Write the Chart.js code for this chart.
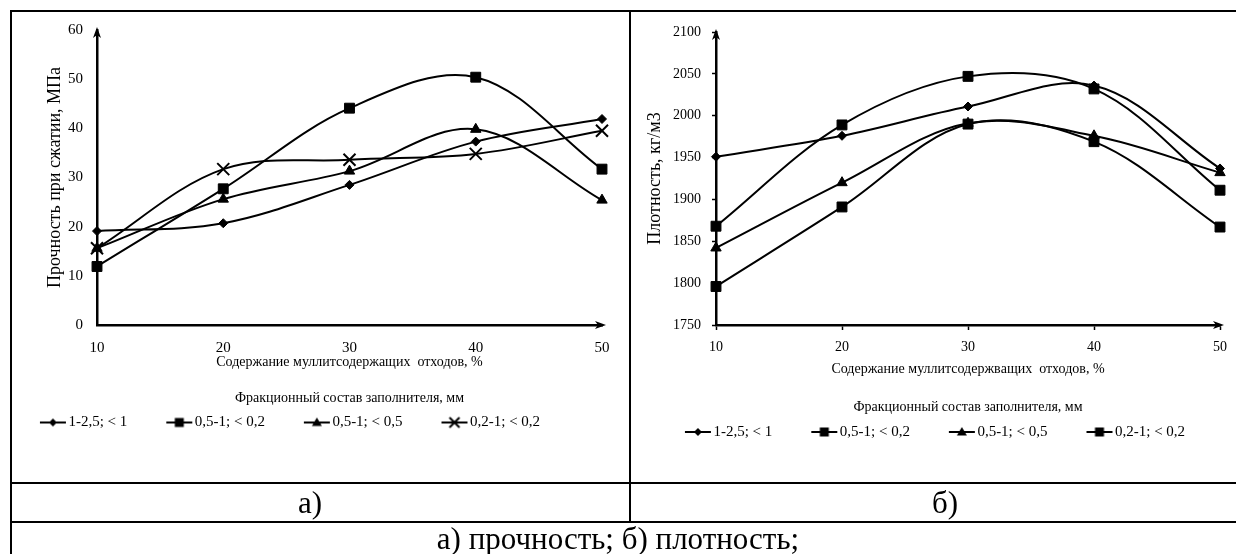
<!DOCTYPE html>
<html lang="ru">
<head>
<meta charset="UTF-8">
<title>Прочность и плотность</title>
<script src="https://cdn.jsdelivr.net/npm/chart.js@4.4.1/dist/chart.umd.min.js"></script>
<style>
  body {
    margin: 0;
    width: 1236px;
    height: 554px;
    position: relative;
    overflow: hidden;
    background: #fff;
    font-family: "Liberation Serif", "Times New Roman", serif;
    color: #000;
  }
  .chart-box { position: absolute; top: 0; height: 483px; }
  .line { position: absolute; background: #000; }
  .caption { position: absolute; text-align: center; font-size: 31px; }
</style>
</head>
<body>

<div class="chart-box" style="left:-53px; width:682px;"><canvas id="chartStrength"></canvas></div>
<div class="chart-box" style="left:617px; width:619px;"><canvas id="chartDensity"></canvas></div>

<!-- table borders -->
<div class="line" style="left:10px; top:10px; width:1226px; height:2px;"></div>
<div class="line" style="left:10px; top:10px; width:2px; height:544px;"></div>
<div class="line" style="left:629px; top:10px; width:2px; height:513px;"></div>
<div class="line" style="left:10px; top:482px; width:1226px; height:2px;"></div>
<div class="line" style="left:10px; top:521px; width:1226px; height:2px;"></div>

<div class="caption" style="left:0; width:620px; top:484px; line-height:37px;">а)</div>
<div class="caption" style="left:630px; width:630px; top:484px; line-height:37px;">б)</div>
<div class="caption" style="left:0; width:1236px; top:523px; line-height:32px;">а) прочность; б) плотность;</div>

<script>
  // данные
  const xValues = [10, 20, 30, 40, 50];
  const seriesLabels = ['1-2,5; < 1', '0,5-1; < 0,2', '0,5-1; < 0,5', '0,2-1; < 0,2'];

  const strength1 = [19.1, 20.7, 28.5, 37.3, 41.9];
  const strength2 = [11.9, 27.7, 44.1, 50.4, 31.7];
  const strength3 = [15.6, 25.6, 31.3, 39.8, 25.4];
  const strength4 = [15.6, 31.7, 33.6, 34.8, 39.5];

  const density1 = [1951, 1976, 2011, 2036, 1937];
  const density2 = [1868, 1989, 2047, 2032, 1911];
  const density3 = [1842, 1920, 1991, 1976, 1932];
  const density4 = [1796, 1891, 1990, 1969, 1867];

  const strengthTicks = [0, 60, 10];
  const densityTicks = [1750, 2100, 50];

  const strengthMarkers = ['rectRot', 'rect', 'triangle', 'crossRot'];
  const densityMarkers = ['rectRot', 'rect', 'triangle', 'rect'];
  const markerRadius = { rectRot: 4.5, rect: 7, triangle: 6, crossRot: 8.5 };

  Chart.defaults.font.family = '"Liberation Serif", "Times New Roman", serif';
  Chart.defaults.color = '#000';

  // значок легенды: линия с маркером, слева пустое место под отступ
  function legendIcon(style) {
    const c = document.createElement('canvas');
    c.width = 64; c.height = 14;
    const ctx = c.getContext('2d');
    ctx.strokeStyle = '#000'; ctx.fillStyle = '#000'; ctx.lineWidth = 2;
    ctx.beginPath(); ctx.moveTo(37, 7); ctx.lineTo(63, 7); ctx.stroke();
    const x = 50, y = 7;
    ctx.beginPath();
    if (style === 'rectRot') {
      ctx.moveTo(x, y - 4); ctx.lineTo(x + 4, y); ctx.lineTo(x, y + 4); ctx.lineTo(x - 4, y); ctx.fill();
    } else if (style === 'rect') {
      ctx.fillRect(x - 4.5, y - 4.5, 9, 9);
    } else if (style === 'triangle') {
      ctx.moveTo(x, y - 5); ctx.lineTo(x + 5, y + 3.5); ctx.lineTo(x - 5, y + 3.5); ctx.fill();
    } else {
      ctx.moveTo(x - 5, y - 5); ctx.lineTo(x + 5, y + 5);
      ctx.moveTo(x + 5, y - 5); ctx.lineTo(x - 5, y + 5); ctx.stroke();
    }
    return c;
  }

  // стрелки на концах осей
  const axisArrows = {
    id: 'axisArrows',
    afterDraw(chart) {
      const { ctx, chartArea: { left, top, right, bottom } } = chart;
      ctx.save();
      ctx.fillStyle = '#000';
      ctx.beginPath();
      ctx.moveTo(left, top - 3);
      ctx.lineTo(left + 4, top + 8);
      ctx.lineTo(left, top + 5);
      ctx.lineTo(left - 4, top + 8);
      ctx.closePath();
      ctx.fill();
      ctx.beginPath();
      ctx.moveTo(right + 4, bottom);
      ctx.lineTo(right - 7, bottom - 4);
      ctx.lineTo(right - 4, bottom);
      ctx.lineTo(right - 7, bottom + 4);
      ctx.closePath();
      ctx.fill();
      ctx.restore();
    }
  };

  function makeDatasets(series, markers) {
    return series.map((values, i) => ({
      label: seriesLabels[i],
      data: values.map((v, j) => ({ x: xValues[j], y: v })),
      borderColor: '#000',
      backgroundColor: '#000',
      borderWidth: 2,
      pointStyle: markers[i],
      pointRadius: markerRadius[markers[i]],
      pointBorderWidth: markers[i] === 'crossRot' ? 2 : 1,
      tension: 0.35,
      clip: false
    }));
  }

  function makeChart(id, cfg) {
    const chart = new Chart(id, {
      type: 'line',
      data: { datasets: makeDatasets(cfg.series, cfg.markers) },
      plugins: [axisArrows],
      options: {
        responsive: true,
        maintainAspectRatio: false,
        animation: false,
        events: [],
        layout: { padding: { left: 0, top: cfg.top, right: cfg.right, bottom: 40 } },
        scales: {
          x: {
            type: 'linear',
            min: 10, max: 50,
            border: { color: '#000', width: 2.5 },
            grid: { drawOnChartArea: false, color: 'transparent', tickColor: cfg.xTickColor, tickLength: 5, tickWidth: 1.5 },
            ticks: { stepSize: 10, padding: 9, font: { size: cfg.tickSize }, callback: v => String(v) },
            title: {
              display: true,
              text: cfg.xTitle,
              font: { size: 14, lineHeight: cfg.xTitleLine },
              padding: { top: 0, bottom: 0 }
            },
            afterFit: s => { s.height = cfg.xHeight; }
          },
          y: {
            min: cfg.yTicks[0], max: cfg.yTicks[1],
            border: { color: '#000', width: 2.5 },
            grid: { drawOnChartArea: false, color: 'transparent', tickColor: cfg.yTickColor, tickLength: 4, tickWidth: 1.5 },
            ticks: { stepSize: cfg.yTicks[2], padding: cfg.yTickPad, font: { size: cfg.tickSize }, callback: v => String(v) },
            title: {
              display: true,
              text: cfg.yTitle,
              font: { size: 18 },
              padding: { top: cfg.yTitlePad, bottom: 0 }
            },
            afterFit: s => { s.width = cfg.yWidth; }
          }
        },
        plugins: {
          tooltip: { enabled: false },
          legend: {
            position: 'bottom',
            labels: {
              usePointStyle: true,
              pointStyleWidth: 52,
              padding: 8,
              font: { size: 15 },
              generateLabels: c => c.data.datasets.map((ds, i) => ({
                text: ds.label,
                pointStyle: legendIcon(cfg.markers[i]),
                fillStyle: '#000',
                strokeStyle: '#000',
                lineWidth: 0,
                hidden: false,
                datasetIndex: i
              }))
            }
          }
        }
      }
    });
    // подгонка нижнего отступа, чтобы ось X легла на нужную высоту
    chart.options.layout.padding.bottom += chart.chartArea.bottom - 325;
    chart.update('none');
    return chart;
  }

  makeChart('chartStrength', {
    series: [strength1, strength2, strength3, strength4],
    markers: strengthMarkers,
    yTicks: strengthTicks,
    top: 30, right: 27,
    tickSize: 15,
    xTickColor: 'transparent', yTickColor: 'transparent',
    yTickPad: 10,
    xTitle: ['Содержание муллитсодержащих  отходов, %', '', 'Фракционный состав заполнителя, мм'],
    xTitleLine: '18px',
    xHeight: 82,
    yTitle: 'Прочность при сжатии, МПа',
    yTitlePad: 97,
    yWidth: 150
  });

  makeChart('chartDensity', {
    series: [density1, density2, density3, density4],
    markers: densityMarkers,
    yTicks: densityTicks,
    top: 32, right: 14,
    tickSize: 14,
    xTickColor: '#000', yTickColor: '#000',
    yTickPad: 11,
    xTitle: ['Содержание муллитсодержвaщих  отходов, %', '', 'Фракционный состав заполнителя, мм'],
    xTitleLine: '19px',
    xHeight: 91.5,
    yTitle: 'Плотность, кг/м3',
    yTitlePad: 27,
    yWidth: 99
  });
</script>

</body>
</html>
